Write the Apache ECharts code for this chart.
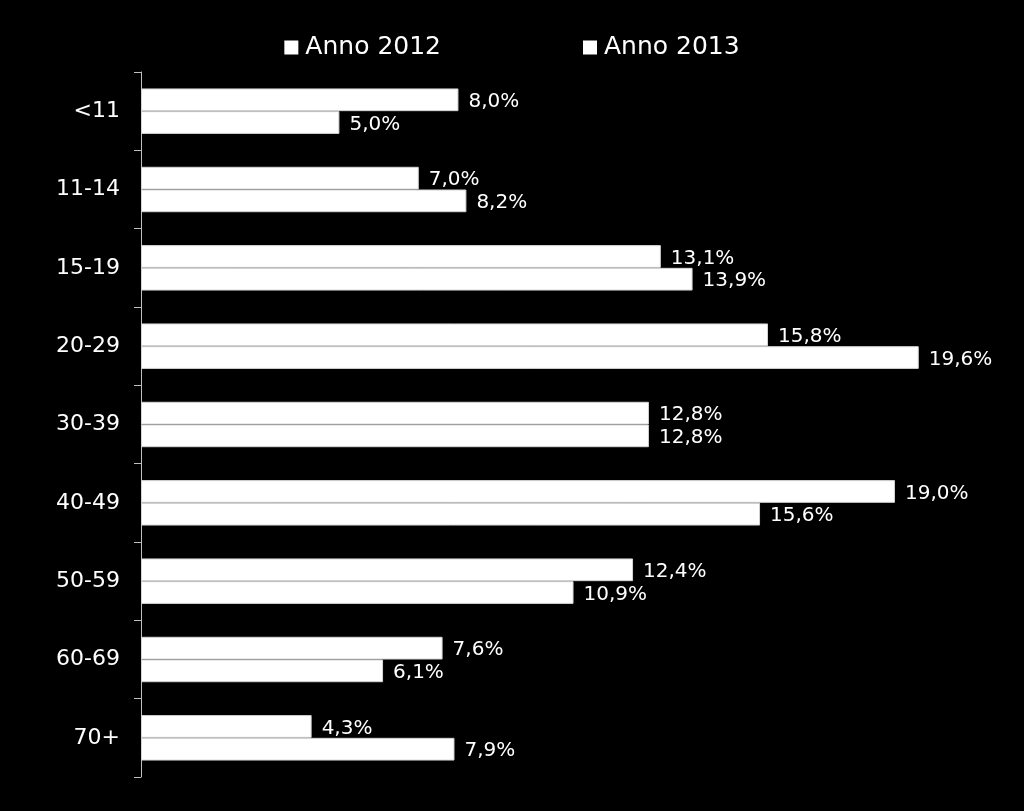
<!DOCTYPE html>
<html>
<head>
<meta charset="utf-8">
<script src="https://cdn.jsdelivr.net/npm/echarts@6/dist/echarts.min.js"></script>
<style>
html,body{margin:0;padding:0;background:#000;}
#chart{width:1024px;height:811px;}
</style>
</head>
<body>
<div id="chart"></div>
<script>
var categories = ['<11','11-14','15-19','20-29','30-39','40-49','50-59','60-69','70+'];
var seriesNames = ['Anno 2012','Anno 2013'];
var values2012 = [8.0, 7.0, 13.1, 15.8, 12.8, 19.0, 12.4, 7.6, 4.3];
var values2013 = [5.0, 8.2, 13.9, 19.6, 12.8, 15.6, 10.9, 6.1, 7.9];

var font = 'DejaVu Sans, Verdana, sans-serif';
function fmt(p){ return p.value.toFixed(1).replace('.', ',') + '%'; }

var chart = echarts.init(document.getElementById('chart'), null, {renderer:'canvas'});
function mkSeries(name, data){
  return {
    name: name,
    type: 'bar',
    data: data,
    barGap: '0%',
    barCategoryGap: '42%',
    itemStyle: {color:'#ffffff', borderColor:'#d4d4d4', borderWidth:1},
    label: {
      show: true, position: 'right', distance: 10, offset:[0,2],
      color:'#ffffff', fontFamily: font, fontSize: 20,
      formatter: fmt
    },
    emphasis: {disabled:true}
  };
}
chart.setOption({
  backgroundColor:'#000000',
  animation:false,
  legend: {
    data: seriesNames,
    top: 30, left: 'center',
    itemWidth: 14, itemHeight: 14, itemGap: 142,
    icon: 'rect',
    itemStyle: {borderWidth:0, color:'#ffffff'},
    textStyle: {color:'#ffffff', fontFamily: font, fontSize: 25, padding:[0,0,0,2]}
  },
  grid: {left:141, top:72, bottom:34, width:873, containLabel:false},
  xAxis: {
    type:'value', min:0, max:22, show:false
  },
  yAxis: {
    type:'category', data: categories, inverse:true,
    axisLine: {show:true, lineStyle:{color:'#bfbfbf', width:1}},
    axisTick: {show:true, inside:false, length:7, lineStyle:{color:'#bfbfbf'}},
    axisLabel: {color:'#ffffff', fontFamily: font, fontSize: 22, margin: 21},
    splitLine: {show:false}
  },
  series: [mkSeries(seriesNames[0], values2012), mkSeries(seriesNames[1], values2013)]
});
</script>
</body>
</html>
